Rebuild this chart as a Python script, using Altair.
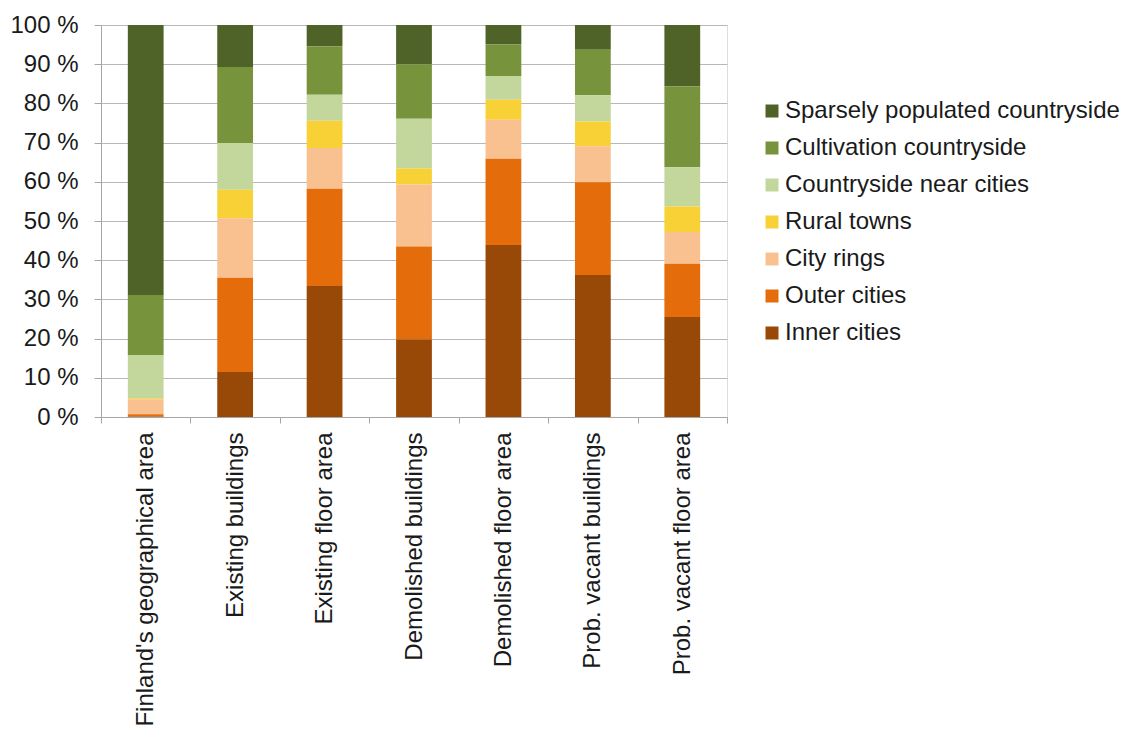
import altair as alt
import pandas as pd

categories = [
    "Finland's geographical area",
    "Existing buildings",
    "Existing floor area",
    "Demolished buildings",
    "Demolished floor area",
    "Prob. vacant buildings",
    "Prob. vacant floor area",
]

regions = [
    "Sparsely populated countryside",
    "Cultivation countryside",
    "Countryside near cities",
    "Rural towns",
    "City rings",
    "Outer cities",
    "Inner cities",
]

colors = ["#4F6228", "#77933C", "#C3D69B", "#F7D135", "#F9C090", "#E46C0A", "#984807"]

# values per region (percent), in category order
inner_cities = [0.1, 11.5, 33.4, 19.8, 43.9, 36.2, 25.5]
outer_cities = [0.6, 24.0, 24.8, 23.7, 22.0, 23.7, 13.6]
city_rings = [3.8, 15.2, 10.4, 15.8, 9.9, 9.2, 8.1]
rural_towns = [0.3, 7.3, 7.0, 4.1, 5.1, 6.3, 6.5]
near_cities = [11.0, 11.9, 6.6, 12.7, 6.1, 6.7, 10.0]
cultivation = [15.3, 19.4, 12.4, 13.9, 8.0, 11.6, 20.7]
sparse = [68.9, 10.7, 5.4, 10.0, 5.0, 6.3, 15.6]

series = {
    "Sparsely populated countryside": sparse,
    "Cultivation countryside": cultivation,
    "Countryside near cities": near_cities,
    "Rural towns": rural_towns,
    "City rings": city_rings,
    "Outer cities": outer_cities,
    "Inner cities": inner_cities,
}

rows = []
for r_i, r in enumerate(regions):
    for c, v in zip(categories, series[r]):
        rows.append({"category": c, "region": r, "value": v, "order": len(regions) - r_i})
df = pd.DataFrame(rows)

FONT = "Liberation Sans"
FS = 24

chart = (
    alt.Chart(df)
    .mark_bar(width=alt.RelativeBandSize(0.4))
    .encode(
        x=alt.X(
            "category:N",
            sort=categories,
            scale=alt.Scale(paddingInner=0, paddingOuter=0),
            axis=alt.Axis(
                title=None,
                labelAngle=-90,
                labelAlign="right",
                labelBaseline="middle",
                tickBand="extent",
                tickSize=6,
                labelPadding=9,
                labelFontSize=FS,
                labelFont=FONT,
                labelColor="#1a1a1a",
                domainColor="#A6A6A6",
                tickColor="#A6A6A6",
                grid=False,
                labelLimit=400,
            ),
        ),
        y=alt.Y(
            "value:Q",
            stack="zero",
            scale=alt.Scale(domain=[0, 100], nice=False),
            axis=alt.Axis(
                title=None,
                values=[0, 10, 20, 30, 40, 50, 60, 70, 80, 90, 100],
                labelExpr="datum.value + ' %'",
                tickSize=7,
                labelPadding=16,
                labelFontSize=FS,
                labelFont=FONT,
                labelColor="#1a1a1a",
                domainColor="#A6A6A6",
                tickColor="#A6A6A6",
                gridColor="#B8B8B8",
                gridWidth=1,
            ),
        ),
        color=alt.Color(
            "region:N",
            scale=alt.Scale(domain=regions, range=colors),
            legend=alt.Legend(
                title=None,
                orient="none",
                legendX=659,
                legendY=74,
                symbolType="square",
                symbolSize=169,
                symbolStrokeWidth=0,
                labelFontSize=FS,
                labelFont=FONT,
                labelColor="#1a1a1a",
                labelOffset=1,
                rowPadding=13,
                labelLimit=400,
            ),
        ),
        order=alt.Order("order:Q", sort="ascending"),
    )
    .properties(
        width=626,
        height=392,
        autosize=alt.AutoSizeParams(type="none"),
        padding={"left": 101, "top": 25, "right": 406, "bottom": 316},
    )
    .configure_view(stroke="#B8B8B8", strokeWidth=1)
    .configure(background="white")
)

chart.save("out.html", embed_options={"renderer": "svg", "actions": False})
